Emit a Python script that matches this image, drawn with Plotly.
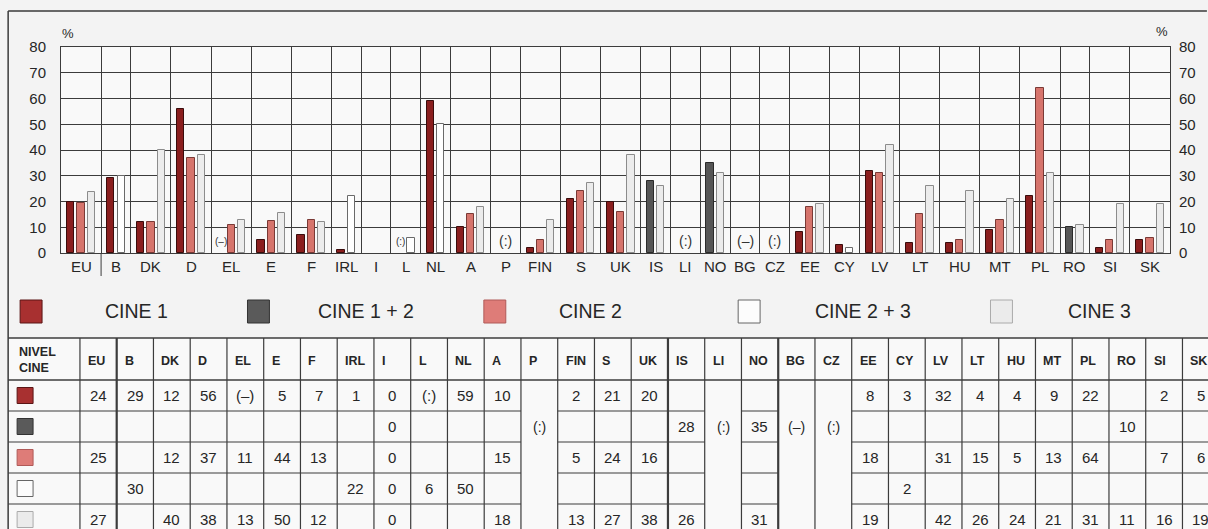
import plotly.graph_objects as go

# ---------------------------------------------------------------- data
countries = ["EU", "B", "DK", "D", "EL", "E", "F", "IRL", "I", "L", "NL", "A", "P",
             "FIN", "S", "UK", "IS", "LI", "NO", "BG", "CZ", "EE", "CY", "LV", "LT",
             "HU", "MT", "PL", "RO", "SI", "SK"]
series_names = ["CINE 1", "CINE 1 + 2", "CINE 2", "CINE 2 + 3", "CINE 3"]

N = None
# bar heights (%)
cine1 = [20, 29, 12, 56, N, 5, 7, 1, N, N, 59, 10, N, 2, 21, 20, N, N, N, N, N,
         8, 3, 32, 4, 4, 9, 22, N, 2, 5]
cine1_2 = [N] * 16 + [28, N, 35] + [N] * 9 + [10, N, N]
cine2 = [19.5, N, 12, 37, 11, 12.5, 13, N, N, N, N, 15, N, 5, 24, 16, N, N, N, N, N,
         18, N, 31, 15, 5, 13, 64, N, 5, 6]
cine2_3 = [N, 30, N, N, N, N, N, 22, N, 6, 50] + [N] * 11 + [2] + [N] * 8
cine3 = [23.5, N, 40, 38, 13, 15.5, 12, N, N, N, N, 18, N, 13, 27, 38, 26, N, 31, N, N,
         19, N, 42, 26, 24, 21, 31, 11, 19, 19]

# "(:)" not available, "(–)" not applicable
chart_notes = {"EL": "(–)", "L": "(:)", "P": "(:)", "LI": "(:)", "BG": "(–)", "CZ": "(:)"}

# table rows
t_cine1 = ["24", "29", "12", "56", "(–)", "5", "7", "1", "0", "(:)", "59", "10", "", "2", "21",
           "20", "", "", "", "", "", "8", "3", "32", "4", "4", "9", "22", "", "2", "5"]
t_cine1_2 = ["", "", "", "", "", "", "", "", "0", "", "", "", "", "", "", "", "28", "", "35",
             "", "", "", "", "", "", "", "", "", "10", "", ""]
t_cine2 = ["25", "", "12", "37", "11", "44", "13", "", "0", "", "", "15", "", "5", "24", "16",
           "", "", "", "", "", "18", "", "31", "15", "5", "13", "64", "", "7", "6"]
t_cine2_3 = ["", "30", "", "", "", "", "", "22", "0", "6", "50", "", "", "", "", "", "", "",
             "", "", "", "", "2", "", "", "", "", "", "", "", ""]
t_cine3 = ["27", "", "40", "38", "13", "50", "12", "", "0", "", "", "18", "", "13", "27", "38",
           "26", "", "31", "", "", "19", "", "42", "26", "24", "21", "31", "11", "16", "19"]
merged_cols = {"P": "(:)", "LI": "(:)", "BG": "(–)", "CZ": "(:)"}

# ---------------------------------------------------------------- styles
FONT = "Liberation Sans, Arial, sans-serif"
fills = ["#8a1e1e", "#555555", "#d6746c", "#ffffff", "#ececec"]
lines = ["#3a0c0c", "#2a2a2a", "#7a3a36", "#6a6a6a", "#8c8c8c"]
icon_fills = ["#a83030", "#5a5a5a", "#de7c78", "#fcfcfc", "#ebebeb"]
icon_lines = ["#5a1515", "#333333", "#b05a58", "#666666", "#aaaaaa"]
GRID = "#3c3c3c"
TXT = "#262626"

W, H = 1208, 529
ML, MR, MT, MB = 61, 35, 47, 276
PW, PH = W - ML - MR, H - MT - MB


def px(x):
    return (x - ML) / PW


def py(y):
    return (H - MB - y) / PH


# ---------------------------------------------------------------- column layout
series = [cine1, cine1_2, cine2, cine2_3, cine3]
SLOT, PAD, BAR_W = 1.0, 0.9, 0.7
xs = [[None] * len(countries) for _ in series]
edges = [0.0]
centers = []
note_at = {}
for j, c in enumerate(countries):
    present = [k for k in range(len(series)) if series[k][j] is not None]
    in_slot_note = c in chart_notes and bool(present)
    used = len(present) + (1 if in_slot_note else 0)
    slots = max(used, 2)
    start = edges[-1]
    width = slots * SLOT + PAD
    first = start + (width - used * SLOT) / 2
    i = 0
    if c in chart_notes:
        if present:
            note_at[c] = (first + 0.5 * SLOT, 10)
            i = 1
        else:
            note_at[c] = (start + width / 2, 14)
    for k in present:
        xs[k][j] = first + (i + 0.5) * SLOT
        i += 1
    edges.append(start + width)
    centers.append(start + width / 2)

fig = go.Figure()
for k, name in enumerate(series_names):
    bx = [xs[k][j] for j in range(len(countries)) if series[k][j] is not None]
    by = [series[k][j] for j in range(len(countries)) if series[k][j] is not None]
    fig.add_trace(go.Bar(
        x=bx, y=by, width=BAR_W, name=name, showlegend=False,
        marker=dict(color=fills[k], line=dict(color=lines[k], width=1)),
        hovertemplate=name + ": %{y}%<extra></extra>",
    ))

# carrier for the right-hand axis
fig.add_trace(go.Scatter(x=[edges[0]], y=[0], yaxis="y2", mode="markers",
                         marker=dict(opacity=0), showlegend=False, hoverinfo="skip"))

shapes = []
annotations = []

# country labels under the bars
for c, cx in zip(countries, centers):
    annotations.append(dict(x=cx, y=py(266), xref="x", yref="paper", text=c,
                            showarrow=False, xanchor="center", yanchor="middle",
                            font=dict(family=FONT, size=15, color=TXT)))
# EU separator in the label row
shapes.append(dict(type="line", xref="x", yref="paper", x0=edges[1], x1=edges[1],
                   y0=0, y1=py(276), line=dict(color=GRID, width=1)))

# notes inside the plot
for c, (nx, fs) in note_at.items():
    annotations.append(dict(x=nx, y=4.5, xref="x", yref="y", text=chart_notes[c],
                            showarrow=False, xanchor="center", yanchor="middle",
                            font=dict(family=FONT, size=fs, color="#333333")))

# % units
for ux, uy in ((68, 33), (1165, 31)):
    annotations.append(dict(x=px(ux), y=py(uy), xref="paper", yref="paper", text="%",
                            showarrow=False, xanchor="center", yanchor="middle",
                            font=dict(family=FONT, size=13, color=TXT)))

# outer frame
shapes.append(dict(type="line", xref="paper", yref="paper", x0=px(8), x1=px(1210),
                   y0=py(11), y1=py(11), line=dict(color="#3a3a3a", width=1.5)))
shapes.append(dict(type="line", xref="paper", yref="paper", x0=px(8), x1=px(8),
                   y0=py(11), y1=py(531), line=dict(color="#3a3a3a", width=1.5)))

# legend row
legend_box_x = [20, 248, 485, 740, 993]
legend_text_x = [137, 367, 592, 865, 1102]
for k, name in enumerate(series_names):
    x0 = legend_box_x[k]
    shapes.append(dict(type="rect", xref="paper", yref="paper",
                       x0=px(x0), x1=px(x0 + 22), y0=py(300), y1=py(323),
                       fillcolor=icon_fills[k], line=dict(color=icon_lines[k], width=1)))
    annotations.append(dict(x=px(legend_text_x[k]), y=py(311), xref="paper", yref="paper",
                            text=name, showarrow=False, xanchor="center", yanchor="middle",
                            font=dict(family=FONT, size=19.5, color=TXT)))

# ---------------------------------------------------------------- table
TOP, HEAD_B, ROW_H = 338, 380, 31
FIRST_R, COL_W = 80, 36.85
rows = [t_cine1, t_cine1_2, t_cine2, t_cine2_3, t_cine3]
col_x = [FIRST_R + COL_W * j for j in range(len(countries) + 1)]
thick = {"B", "IS", "BG"}

shapes.append(dict(type="rect", xref="paper", yref="paper", x0=px(8), x1=px(1212),
                   y0=py(TOP), y1=py(H + 5), fillcolor="#f9f9f9", line=dict(width=0),
                   layer="below"))
for yline in (TOP, HEAD_B):
    shapes.append(dict(type="line", xref="paper", yref="paper", x0=px(8), x1=px(1212),
                       y0=py(yline), y1=py(yline), line=dict(color=GRID, width=1.3)))
for r in range(1, len(rows) + 1):
    yline = HEAD_B + ROW_H * r
    segs = [(8, FIRST_R)] + [(col_x[j], col_x[j + 1]) for j, c in enumerate(countries)
                             if c not in merged_cols]
    for a, b in segs:
        shapes.append(dict(type="line", xref="paper", yref="paper", x0=px(a), x1=px(b),
                           y0=py(yline), y1=py(yline), line=dict(color=GRID, width=1.2)))
vx = [FIRST_R] + col_x[1:]
for j, xv in enumerate(vx):
    right_of = countries[j] if j < len(countries) else None
    wdt = 2.2 if right_of in thick else 1.2
    shapes.append(dict(type="line", xref="paper", yref="paper", x0=px(xv), x1=px(xv),
                       y0=py(TOP), y1=py(H + 5), line=dict(color=GRID, width=wdt)))

annotations.append(dict(x=px(17), y=py(360), xref="paper", yref="paper",
                        text="<b>NIVEL</b><br><b>CINE</b>", showarrow=False, align="left",
                        xanchor="left", yanchor="middle",
                        font=dict(family=FONT, size=12.5, color=TXT)))
for j, c in enumerate(countries):
    annotations.append(dict(x=px(col_x[j] + 6), y=py(361), xref="paper", yref="paper",
                            text="<b>" + c + "</b>", showarrow=False, xanchor="left",
                            yanchor="middle", font=dict(family=FONT, size=12.5, color=TXT)))

for r, row in enumerate(rows):
    cy = HEAD_B + ROW_H * r + ROW_H / 2
    shapes.append(dict(type="rect", xref="paper", yref="paper",
                       x0=px(17), x1=px(33), y0=py(cy - 8), y1=py(cy + 8),
                       fillcolor=icon_fills[r], line=dict(color=icon_lines[r], width=1)))
    for j, val in enumerate(row):
        if val and countries[j] not in merged_cols:
            annotations.append(dict(x=px(col_x[j] + COL_W / 2), y=py(cy), xref="paper",
                                    yref="paper", text=val, showarrow=False,
                                    xanchor="center", yanchor="middle",
                                    font=dict(family=FONT, size=15, color=TXT)))
for j, c in enumerate(countries):
    if c in merged_cols:
        cy = HEAD_B + ROW_H * 1.5
        annotations.append(dict(x=px(col_x[j] + COL_W / 2), y=py(cy), xref="paper",
                                yref="paper", text=merged_cols[c], showarrow=False,
                                xanchor="center", yanchor="middle",
                                font=dict(family=FONT, size=14, color=TXT)))

# ---------------------------------------------------------------- layout
axis_font = dict(family=FONT, size=15, color=TXT)
fig.update_layout(
    width=W, height=H,
    margin=dict(l=ML, r=MR, t=MT, b=MB, pad=0),
    paper_bgcolor="#f3f3f3", plot_bgcolor="#f9f9f9",
    barmode="overlay", bargap=0,
    xaxis=dict(range=[edges[0], edges[-1]], tickvals=edges, showticklabels=False,
               showgrid=True, gridcolor=GRID, gridwidth=1, zeroline=False, ticks="",
               showline=True, mirror=True, linecolor=GRID, linewidth=1, fixedrange=True),
    yaxis=dict(range=[0, 80], dtick=10, tick0=0, showgrid=True, gridcolor=GRID, gridwidth=1,
               zeroline=False, showline=True, mirror=True, linecolor=GRID, linewidth=1,
               ticks="outside", ticklen=11, tickcolor="rgba(0,0,0,0)", tickfont=axis_font,
               fixedrange=True),
    yaxis2=dict(range=[0, 80], dtick=10, tick0=0, overlaying="y", side="right",
                showgrid=False, zeroline=False, ticks="outside", ticklen=5,
                tickcolor="rgba(0,0,0,0)", tickfont=axis_font, fixedrange=True),
    shapes=shapes,
    annotations=annotations,
    font=dict(family=FONT),
)

fig.write_html("out.html")
